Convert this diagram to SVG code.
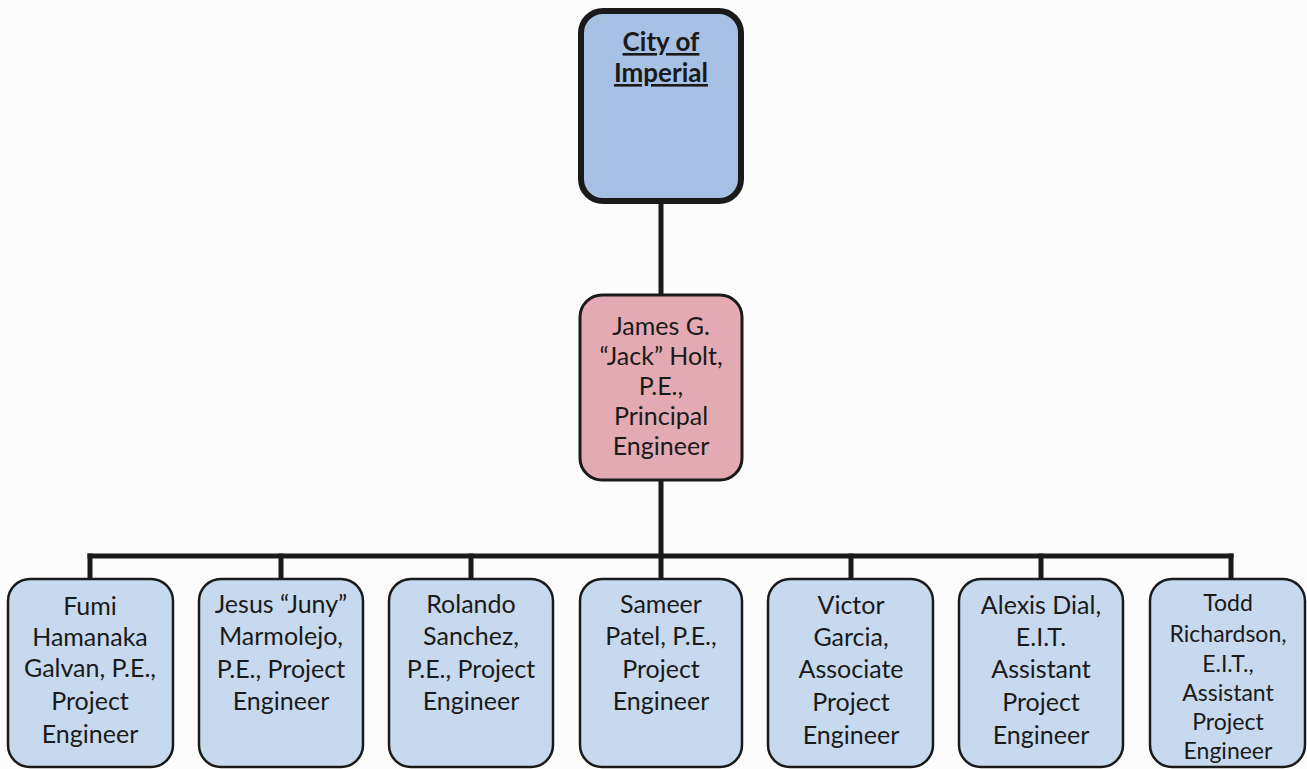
<svg xmlns="http://www.w3.org/2000/svg" width="1307" height="769" viewBox="0 0 1307 769">
<style>
.bg{fill:#fcfcfc}
.conn line{stroke:#1a1a1a;stroke-width:5;stroke-linecap:square}
.child rect{fill:#c7d9ee;stroke:#1a1a1a;stroke-width:2.5}
.t{font-family:Lato,"Liberation Sans",sans-serif;font-size:25px;fill:#1a1a1a;text-anchor:middle}
.small{font-size:23px}
.top rect{fill:#a7c1e5;stroke:#1a1a1a;stroke-width:6}
.top text{font-weight:bold;text-decoration:underline;font-size:26px}
.mid rect{fill:#e4aab3;stroke:#1a1a1a;stroke-width:3}
</style>
<rect class="bg" x="0" y="0" width="1307" height="769"/>
<g id="connectors" class="conn">
<line x1="661" y1="203" x2="661" y2="295"/>
<line x1="661" y1="480" x2="661" y2="556"/>
<line x1="90" y1="556" x2="1231" y2="556"/>
<line x1="90" y1="556" x2="90" y2="579"/>
<line x1="281" y1="556" x2="281" y2="579"/>
<line x1="471" y1="556" x2="471" y2="579"/>
<line x1="661" y1="556" x2="661" y2="579"/>
<line x1="851" y1="556" x2="851" y2="579"/>
<line x1="1041" y1="556" x2="1041" y2="579"/>
<line x1="1231" y1="556" x2="1231" y2="579"/>
</g>
<g id="city" class="top">
<rect x="581" y="11" width="160" height="190" rx="22"/>
<text class="t" x="661" y="51">City of</text>
<text class="t" x="661" y="82">Imperial</text>
</g>
<g id="holt" class="mid">
<rect x="580" y="295" width="162" height="185" rx="22"/>
<text class="t" x="661" y="335">James G.</text>
<text class="t" x="661" y="365">“Jack” Holt,</text>
<text class="t" x="661" y="395">P.E.,</text>
<text class="t" x="661" y="425">Principal</text>
<text class="t" x="661" y="455">Engineer</text>
</g>
<g id="galvan" class="child">
<rect x="8" y="579" width="165" height="188" rx="22"/>
<text class="t" x="90" y="615">Fumi</text>
<text class="t" x="90" y="646">Hamanaka</text>
<text class="t" x="90" y="677">Galvan, P.E.,</text>
<text class="t" x="90" y="710">Project</text>
<text class="t" x="90" y="743">Engineer</text>
</g>
<g id="marmolejo" class="child">
<rect x="199" y="579" width="164" height="188" rx="22"/>
<text class="t" x="281" y="613">Jesus “Juny”</text>
<text class="t" x="281" y="645">Marmolejo,</text>
<text class="t" x="281" y="678">P.E., Project</text>
<text class="t" x="281" y="710">Engineer</text>
</g>
<g id="sanchez" class="child">
<rect x="389" y="579" width="164" height="188" rx="22"/>
<text class="t" x="471" y="613">Rolando</text>
<text class="t" x="471" y="645">Sanchez,</text>
<text class="t" x="471" y="678">P.E., Project</text>
<text class="t" x="471" y="710">Engineer</text>
</g>
<g id="patel" class="child">
<rect x="580" y="579" width="162" height="188" rx="22"/>
<text class="t" x="661" y="613">Sameer</text>
<text class="t" x="661" y="645">Patel, P.E.,</text>
<text class="t" x="661" y="678">Project</text>
<text class="t" x="661" y="710">Engineer</text>
</g>
<g id="garcia" class="child">
<rect x="768" y="579" width="165" height="188" rx="22"/>
<text class="t" x="851" y="614">Victor</text>
<text class="t" x="851" y="646">Garcia,</text>
<text class="t" x="851" y="678">Associate</text>
<text class="t" x="851" y="711">Project</text>
<text class="t" x="851" y="744">Engineer</text>
</g>
<g id="dial" class="child">
<rect x="959" y="579" width="164" height="188" rx="22"/>
<text class="t" x="1041" y="614">Alexis Dial,</text>
<text class="t" x="1041" y="646">E.I.T.</text>
<text class="t" x="1041" y="678">Assistant</text>
<text class="t" x="1041" y="711">Project</text>
<text class="t" x="1041" y="744">Engineer</text>
</g>
<g id="richardson" class="child">
<rect x="1150" y="579" width="155" height="188" rx="22"/>
<text class="t small" x="1228" y="611">Todd</text>
<text class="t small" x="1228" y="642">Richardson,</text>
<text class="t small" x="1228" y="672">E.I.T.,</text>
<text class="t small" x="1228" y="701">Assistant</text>
<text class="t small" x="1228" y="730">Project</text>
<text class="t small" x="1228" y="759">Engineer</text>
</g>
</svg>
